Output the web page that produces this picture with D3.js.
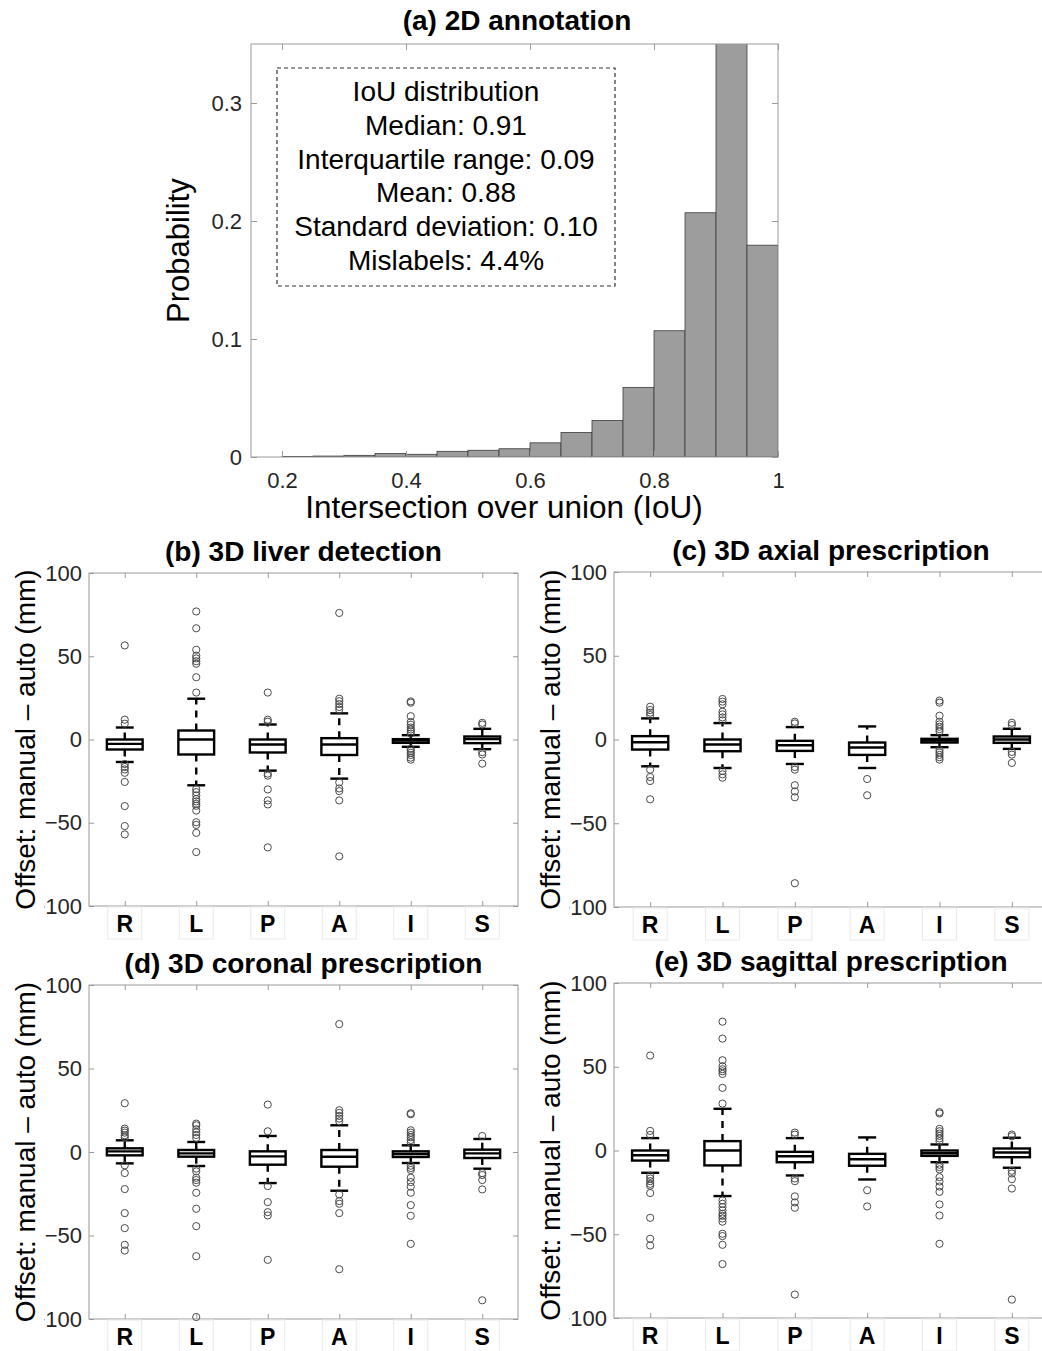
<!DOCTYPE html>
<html>
<head>
<meta charset="utf-8">
<script src="https://cdn.jsdelivr.net/npm/d3@7"></script>
<style>
  body { margin: 0; background: #fff; }
  svg { display: block; }
</style>
</head>
<body>
<svg id="fig" width="1042" height="1351"></svg>
<script>
// ---- panel (a): IoU histogram ----
const iouBinStart = [0.20, 0.25, 0.30, 0.35, 0.40, 0.45, 0.50, 0.55, 0.60, 0.65, 0.70, 0.75, 0.80, 0.85, 0.90, 0.95];
const iouProb = [0.0005, 0.0008, 0.0014, 0.003, 0.0023, 0.0048, 0.0057, 0.007, 0.012, 0.0208, 0.031, 0.059, 0.107, 0.207, 0.358, 0.1795];
const iouBinWidth = 0.05;
const iouTicks = [0.2, 0.4, 0.6, 0.8, 1];
const probTicks = [0, 0.1, 0.2, 0.3];
const statsLines = ['IoU distribution', 'Median: 0.91', 'Interquartile range: 0.09',
  'Mean: 0.88', 'Standard deviation: 0.10', 'Mislabels: 4.4%'];

// ---- panels (b)-(e): offset box plots ----
const categories = ['R', 'L', 'P', 'A', 'I', 'S'];
const offsetTicks = [-100, -50, 0, 50, 100];
// each row: [lower whisker, q1, median, q3, upper whisker]
const liverBox = [[-13.5, -6, -2.6, 0, 7.2], [-27.5, -9, 0, 5.4, 24.5], [-18.7, -7.8, -3, 0, 9],
  [-23.5, -9.3, -3, 0.8, 15.7], [-4.4, -2, -0.6, 0.2, 2.6], [-5.8, -2.2, 0.2, 1.8, 6.4]];
const liverOut = [
  [56.5, 11.9, 9.5, -14.7, -16.5, -18, -20, -25.5, -40, -52, -57],
  [76.9, 66.8, 53.9, 50.3, 48.7, 47, 45.5, 37.4, 28.2, -29.8, -31.6, -33.6, -35.8, -37.2, -38.6, -39.8, -42.7, -49.7, -51.3, -56.1, -67.6],
  [28.2, 11.9, 10.7, -20.5, -21.7, -30, -36.6, -39, -64.8],
  [76, 24.5, 23, 21.3, 19.5, 17.9, -25.8, -29.4, -31, -36.6, -70.2],
  [22.9, 22.1, 14, 10.5, 8.9, 7.2, 6, 4.8, 3.6, -5.6, -6.8, -8, -9.3, -10.9, -12.1],
  [10, 9, -7.6, -9, -14.5]];

const axialBox = [[-16, -6, -1.6, 2, 12.6], [-17, -7, -3, 0, 9.8], [-14.6, -6.8, -3.4, -0.8, 7.4],
  [-17, -9.2, -4.8, -1.8, 7.8], [-4.6, -1.8, -0.6, 0.4, 2.6], [-5.6, -2, 0, 1.8, 6.4]];
const axialOut = [
  [19.6, 17.6, 16, 14.6, -18, -22.4, -24.8, -35.7],
  [24.2, 22.6, 21, 16.6, 15, 13.2, 11.4, -18.8, -20.8, -22.8],
  [10.6, 9.6, -16.4, -18, -27.3, -31, -34.5, -85.8],
  [-23.6, -33.3],
  [23.2, 22, 14.2, 10.6, 9, 7.6, 6.2, 4.8, -6.4, -7.8, -9.2, -10.6, -12],
  [10, 8.6, -7.4, -9, -14]];

const coronalBox = [[-6.8, -2, 0.4, 2.2, 7], [-8.4, -2.8, -0.8, 1.2, 6], [-18.6, -7.6, -2.6, 0.4, 9.6],
  [-23.2, -8.8, -2.8, 1.2, 16], [-6.6, -3, -1.2, 0.4, 4], [-10, -3.6, -0.8, 1.4, 7.8]];
const coronalOut = [
  [29.2, 14, 12.8, 11.6, 10, 8.8, -8, -12.6, -22.2, -36.6, -45.6, -55.6, -59],
  [17, 16, 13.6, 11.8, 10.2, 8.4, -10, -11.6, -15.4, -16.8, -18.4, -24.4, -34, -44.4, -62.4, -98.8],
  [28.4, 12.4, -20.4, -30, -36, -38, -64.6],
  [76.6, 25, 23.4, 21.6, 20, 18.4, -25.4, -29.4, -31, -36.6, -70.2],
  [23.2, 22.6, 13, 11.6, 10.2, 8.8, 7.2, 5.6, -8.2, -9.6, -10.8, -15.4, -18, -20.8, -24.4, -31.8, -38.2, -55],
  [9.6, -12.6, -13.8, -16.8, -22.4, -88.8]];

const sagittalBox = [[-13.3, -6, -2.8, 0, 7.4], [-27.2, -8.9, 0, 5.6, 24.9], [-14.9, -7, -3.4, -0.8, 7.4],
  [-17.3, -9.1, -5.2, -2, 7.8], [-7, -3.2, -1.6, 0, 3.6], [-10.3, -4, -1.2, 1.2, 7.6]];
const sagittalOut = [
  [56.7, 11.7, 9.3, -15.1, -16.7, -18.3, -19.9, -21, -25.4, -40.2, -52.7, -56.7],
  [76.9, 66.8, 53.9, 50.3, 48.5, 47.3, 45.7, 37.4, 28, -29.8, -31.8, -33.8, -35.8, -37.8, -39, -40.6, -42.5, -49.7, -51.1, -56.3, -67.8],
  [10.7, 9.5, -16.7, -18.3, -27.4, -31, -34.2, -86],
  [-23.7, -33.4],
  [22.9, 22.1, 12.9, 11.5, 10.1, 8.7, 7.2, 5.6, -8.5, -9.9, -11.3, -15.9, -18.5, -21.5, -24.7, -32.2, -38.8, -55.7],
  [9.5, 8.5, -12.1, -13.7, -17.1, -22.7, -89]];

const FONT = '"Liberation Sans", Arial, Helvetica, sans-serif';
const AXIS = '#9a9a9a';
const INK = '#262626';
const TICK_FS = 22;

const svg = d3.select('#fig').attr('font-family', FONT);

function tidy(sel) {
  sel.select('.domain').remove();
  sel.selectAll('.tick line').attr('stroke', AXIS);
  sel.selectAll('.tick text').attr('fill', INK).attr('font-size', TICK_FS).attr('font-family', FONT);
}

function frame(g, x0, y0, x1, y1) {
  g.append('rect').attr('x', x0).attr('y', y0).attr('width', x1 - x0).attr('height', y1 - y0)
    .attr('fill', 'none').attr('stroke', AXIS).attr('stroke-width', 1);
}

// rotated y label with a white backing (it hides part of the "-100" label, as in the figure)
function yLabel(g, text, x, y, fs) {
  const lab = g.append('g').attr('transform', `translate(${x},${y}) rotate(-90)`);
  const bg = lab.append('rect').attr('fill', '#fff');
  const t = lab.append('text').attr('text-anchor', 'middle').attr('font-size', fs)
    .attr('fill', '#000').text(text);
  const b = t.node().getBBox();
  bg.attr('x', b.x - 2).attr('y', b.y - 2).attr('width', b.width + 4).attr('height', b.height + 5);
}

// ---------- (a) ----------
(function () {
  const L = 251, R = 778, T = 44, B = 457;
  const x = d3.scaleLinear().domain([0.15, 1]).range([L, R]);
  const y = d3.scaleLinear().domain([0, 0.35]).range([B, T]);
  const g = svg.append('g');

  g.append('clipPath').attr('id', 'clipA').append('rect')
    .attr('x', L).attr('y', T).attr('width', R - L).attr('height', B - T);
  g.append('g').attr('clip-path', 'url(#clipA)')
    .selectAll('rect').data(iouProb).join('rect')
    .attr('x', (d, i) => x(iouBinStart[i]))
    .attr('width', (d, i) => x(iouBinStart[i] + iouBinWidth) - x(iouBinStart[i]))
    .attr('y', d => y(d)).attr('height', d => y(0) - y(d))
    .attr('fill', '#9d9d9d').attr('stroke', '#3c3c3c').attr('stroke-width', 0.8);

  const fmt = d3.format('~g');
  g.append('g').attr('transform', `translate(0,${B})`)
    .call(d3.axisBottom(x).tickValues(iouTicks).tickSize(-6).tickPadding(15).tickFormat(fmt)).call(tidy);
  g.append('g').attr('transform', `translate(0,${T})`)
    .call(d3.axisTop(x).tickValues(iouTicks).tickSize(-6).tickFormat('')).call(tidy);
  g.append('g').attr('transform', `translate(${L},0)`)
    .call(d3.axisLeft(y).tickValues(probTicks).tickSize(-6).tickPadding(9).tickFormat(fmt)).call(tidy);
  g.append('g').attr('transform', `translate(${R},0)`)
    .call(d3.axisRight(y).tickValues(probTicks).tickSize(-6).tickFormat('')).call(tidy);
  frame(g, L, T, R, B);

  // stats box
  g.append('rect').attr('x', 277).attr('y', 68).attr('width', 338).attr('height', 218)
    .attr('fill', '#fff').attr('stroke', '#333').attr('stroke-width', 1.2).attr('stroke-dasharray', '4,3');
  g.append('g').selectAll('text').data(statsLines).join('text')
    .attr('x', 446).attr('y', (d, i) => 101 + i * 33.8)
    .attr('text-anchor', 'middle').attr('font-size', 28).attr('fill', '#000').text(d => d);

  g.append('text').attr('x', 517).attr('y', 30).attr('text-anchor', 'middle')
    .attr('font-size', 28).attr('font-weight', 'bold').text('(a) 2D annotation');
  g.append('text').attr('x', 504).attr('y', 518).attr('text-anchor', 'middle')
    .attr('font-size', 31.5).text('Intersection over union (IoU)');
  yLabel(g, 'Probability', 189, (T + B) / 2, 31);
})();

// ---------- (b)-(e) ----------
function boxPanel(o) {
  const { L, R, T, B } = o;
  const x = d3.scalePoint().domain(categories).range([L, R]).padding(0.5);
  const y = d3.scaleLinear().domain([-100, 100]).range([B, T]);
  const step = x.step();
  const bw = step * 0.5, cw = step * 0.25;
  const g = svg.append('g');

  g.append('g').attr('transform', `translate(${L},0)`)
    .call(d3.axisLeft(y).tickValues(offsetTicks).tickSize(-5).tickPadding(7)).call(tidy);
  g.append('g').attr('transform', `translate(${R},0)`)
    .call(d3.axisRight(y).tickValues(offsetTicks).tickSize(-5).tickFormat('')).call(tidy);
  g.append('g').attr('transform', `translate(0,${T})`)
    .call(d3.axisTop(x).tickSize(-5).tickFormat('')).call(tidy);
  g.append('g').attr('transform', `translate(0,${B})`)
    .call(d3.axisBottom(x).tickSize(-5).tickFormat('')).call(tidy);
  frame(g, L, T, R, B);

  // category labels in faint boxes
  const lab = g.append('g').selectAll('g').data(categories).join('g')
    .attr('transform', d => `translate(${x(d)},${B})`);
  lab.append('rect').attr('x', -17).attr('y', 1).attr('width', 34).attr('height', 32)
    .attr('fill', '#fff').attr('stroke', '#eaeaea').attr('stroke-width', 1);
  lab.append('text').attr('y', 26).attr('text-anchor', 'middle').attr('font-size', 23)
    .attr('font-weight', 'bold').attr('fill', '#000').text(d => d);

  const boxes = g.append('g').selectAll('g').data(o.box).join('g')
    .attr('transform', (d, i) => `translate(${x(categories[i])},0)`);
  const line = { stroke: '#000', 'stroke-width': 2.4 };
  const ap = (s, a) => { Object.entries(a).forEach(([k, v]) => s.attr(k, v)); return s; };

  // whiskers (dashed)
  ap(boxes.append('line').attr('x1', 0).attr('x2', 0).attr('y1', d => y(d[3])).attr('y2', d => y(d[4])), line)
    .attr('stroke-dasharray', '7,6');
  ap(boxes.append('line').attr('x1', 0).attr('x2', 0).attr('y1', d => y(d[1])).attr('y2', d => y(d[0])), line)
    .attr('stroke-dasharray', '7,6');
  // caps
  ap(boxes.append('line').attr('x1', -cw / 2).attr('x2', cw / 2).attr('y1', d => y(d[4])).attr('y2', d => y(d[4])), line);
  ap(boxes.append('line').attr('x1', -cw / 2).attr('x2', cw / 2).attr('y1', d => y(d[0])).attr('y2', d => y(d[0])), line);
  // box and median
  ap(boxes.append('rect').attr('x', -bw / 2).attr('width', bw)
    .attr('y', d => y(d[3])).attr('height', d => y(d[1]) - y(d[3])).attr('fill', 'none'), line);
  ap(boxes.append('line').attr('x1', -bw / 2).attr('x2', bw / 2).attr('y1', d => y(d[2])).attr('y2', d => y(d[2])), line);

  // outliers
  boxes.each(function (d, i) {
    d3.select(this).selectAll('circle').data(o.out[i]).join('circle')
      .attr('cx', 0).attr('cy', v => y(v)).attr('r', 3.6)
      .attr('fill', 'none').attr('stroke', '#4a4a4a').attr('stroke-width', 1);
  });

  g.append('text').attr('x', (L + R) / 2).attr('y', T - 12).attr('text-anchor', 'middle')
    .attr('font-size', 28).attr('font-weight', 'bold').text(o.title);
  yLabel(g, 'Offset: manual \u2013 auto (mm)', L - 54, (T + B) / 2, 28);
}

boxPanel({ L: 89, R: 518, T: 573, B: 906, title: '(b) 3D liver detection', box: liverBox, out: liverOut });
boxPanel({ L: 614, R: 1048, T: 572, B: 907, title: '(c) 3D axial prescription', box: axialBox, out: axialOut });
boxPanel({ L: 89, R: 518, T: 985, B: 1319, title: '(d) 3D coronal prescription', box: coronalBox, out: coronalOut });
boxPanel({ L: 614, R: 1048, T: 983, B: 1318, title: '(e) 3D sagittal prescription', box: sagittalBox, out: sagittalOut });
</script>
</body>
</html>
